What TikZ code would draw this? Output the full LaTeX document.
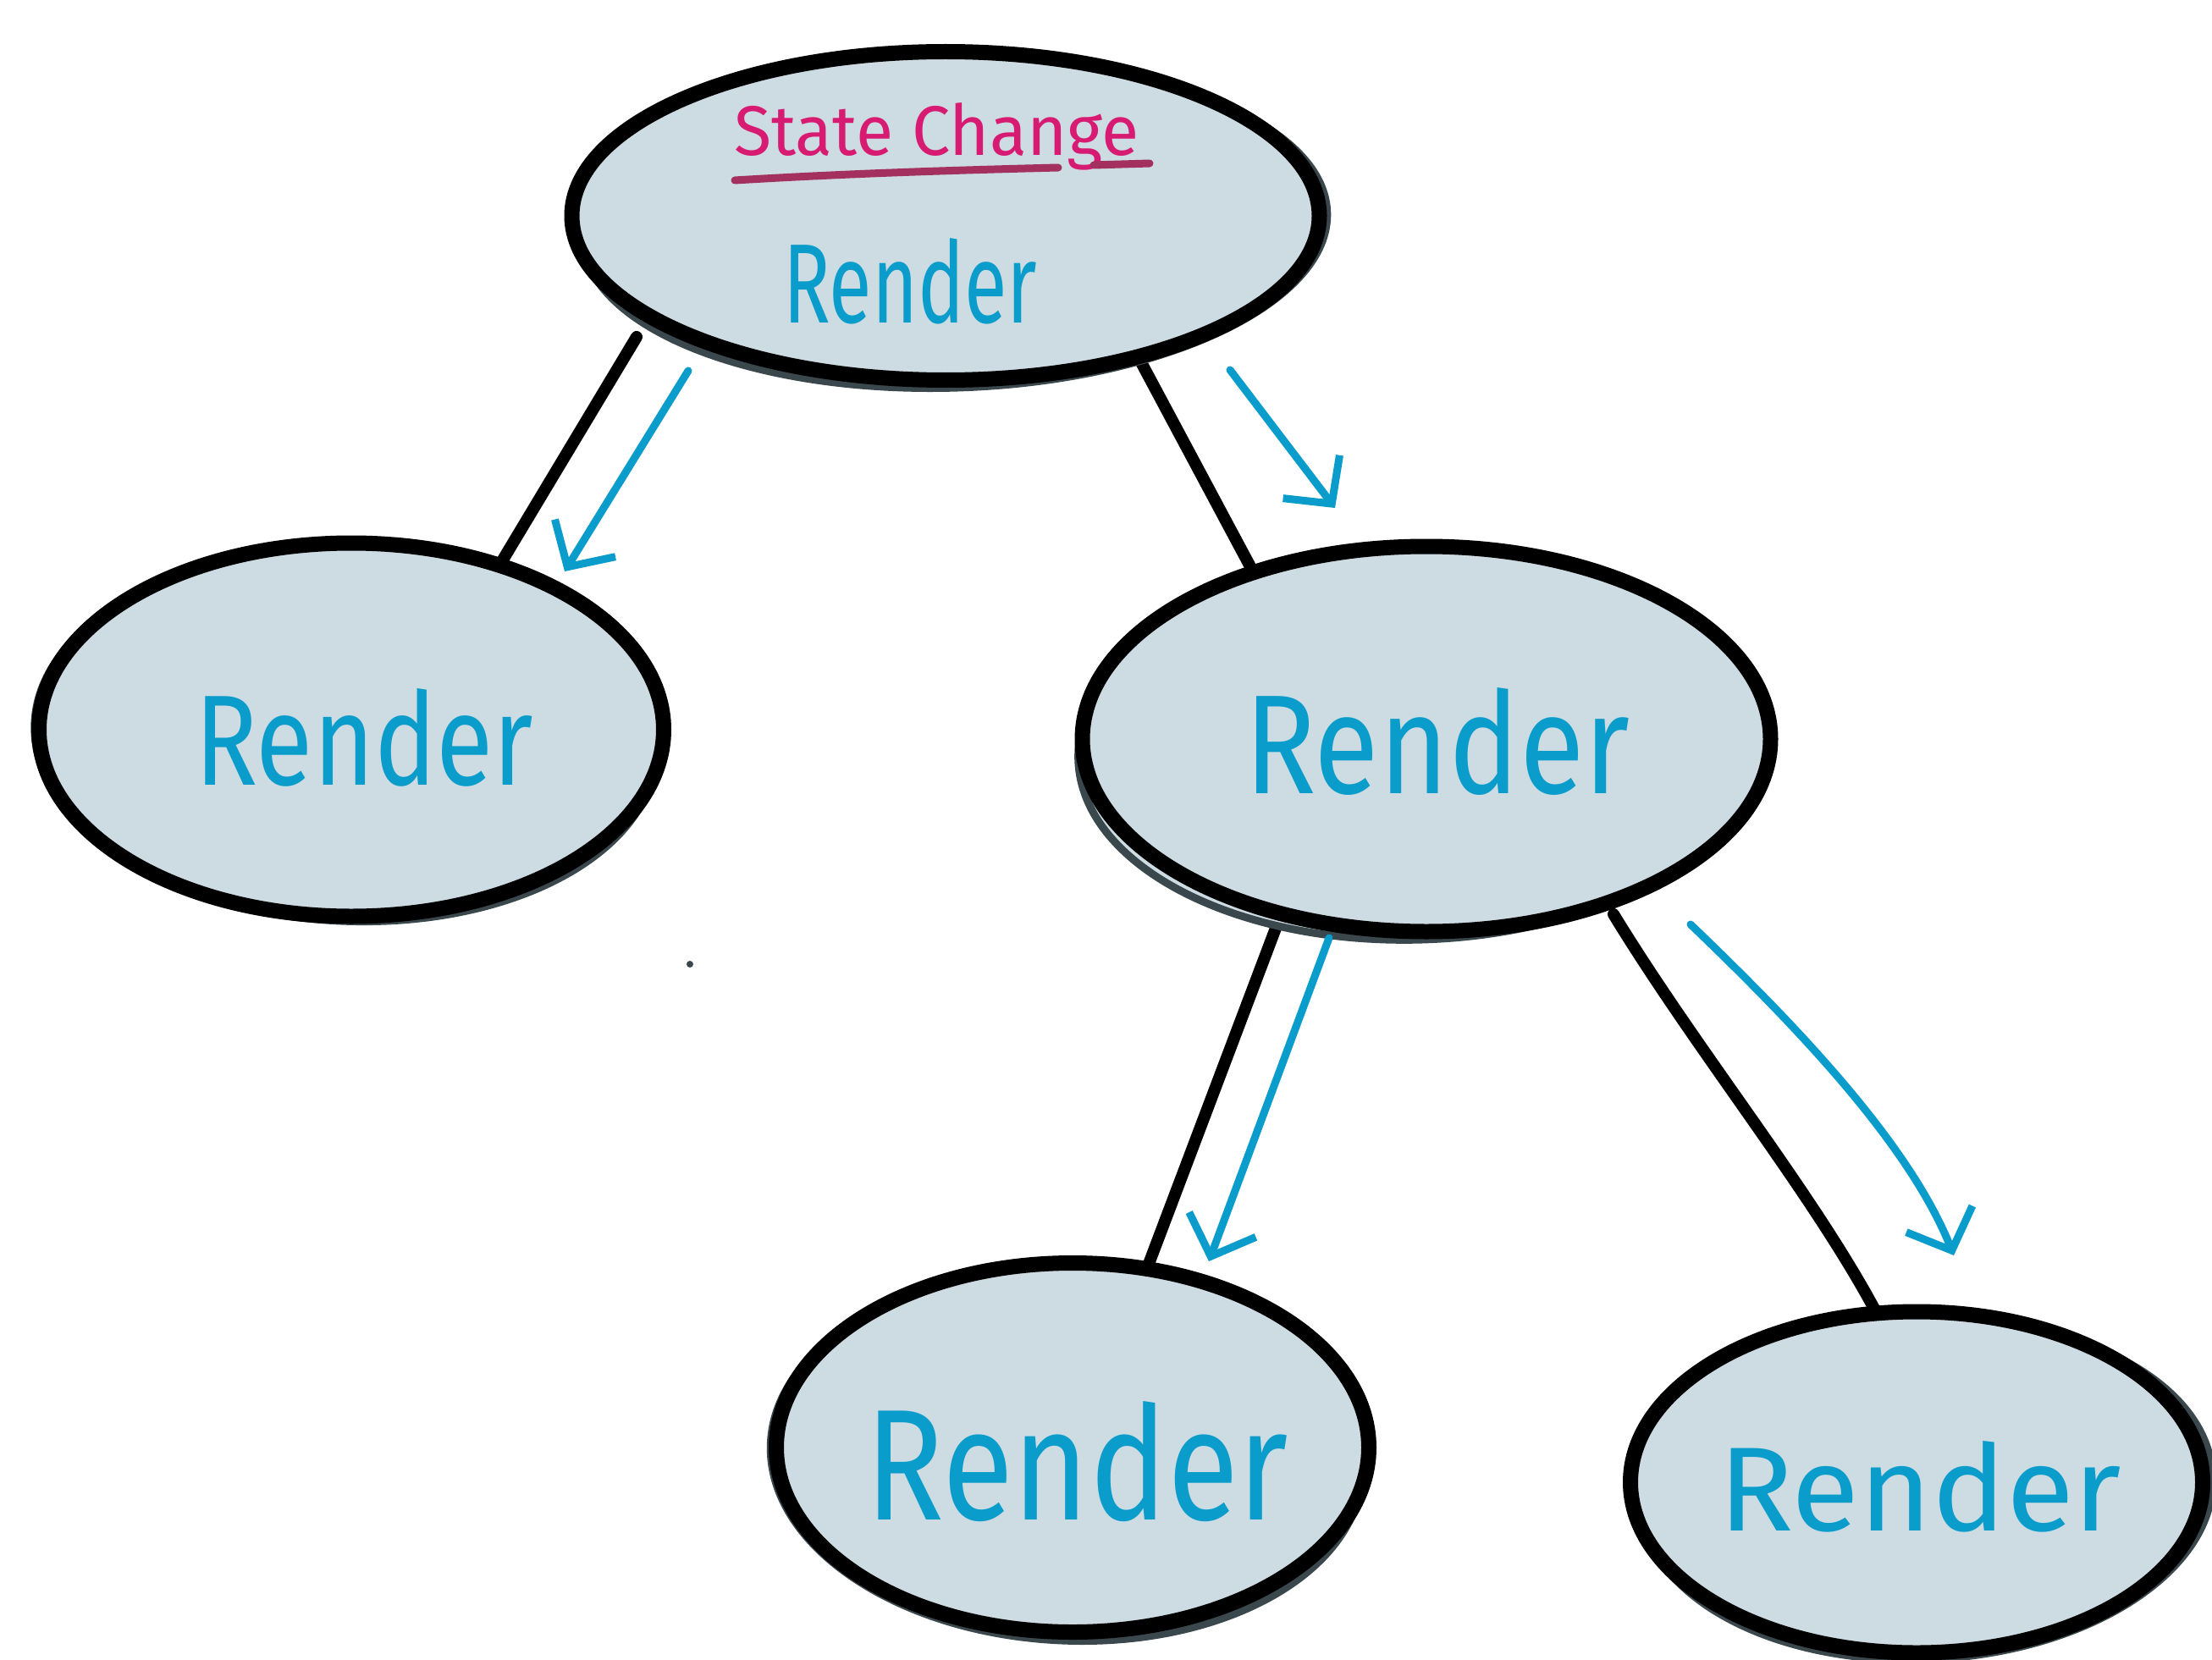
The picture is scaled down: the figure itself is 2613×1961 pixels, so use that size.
\documentclass[tikz,border=0pt]{standalone}
\usepackage{fontspec}
\usepackage{graphicx}
\setmainfont{Fira Sans}
\usetikzlibrary{shapes.geometric,arrows.meta}
\definecolor{blobfill}{HTML}{CCDCE2}
\definecolor{inkblue}{HTML}{0A9CCB}
\definecolor{inkpink}{HTML}{D81B72}
\definecolor{inkline}{HTML}{A3305E}
\definecolor{rimgrey}{HTML}{3A474C}
\begin{document}
\begin{tikzpicture}[x=1pt,y=-1pt,
  blob/.style={ellipse, fill=blobfill, draw=black, line width=18pt, inner sep=0pt},
  trace/.style={ellipse, draw=rimgrey, line width=9pt, inner sep=0pt, fill=blobfill},
  rtext/.style={inner sep=0pt, anchor=base west, text=inkblue},
  link/.style={line width=14pt, line cap=round, draw=black},
  flow/.style={draw=inkblue, line width=9pt, line cap=round, line join=round,
    -{Straight Barb[length=40pt,width=84pt]}}]
\useasboundingbox (0,0) rectangle (2613,1961);
\fill[white] (0,0) rectangle (2613,1961);

% connector end points
\coordinate (l1a) at (752,398);
\coordinate (l1b) at (590,668);
\coordinate (l2a) at (1348,428);
\coordinate (l2b) at (1488,690);
\coordinate (l3a) at (1517,1070);
\coordinate (l3b) at (1343,1530);
\coordinate (l4a) at (1906,1080);
\coordinate (l4b) at (2224,1565);

\draw[link] (l1a) -- (l1b);
\draw[link] (l2a) -- (l2b);
\draw[link] (l3a) -- (l3b);
\draw[link] (l4a) .. controls (2010,1250) and (2150,1420) .. (l4b);

% sketchy second outlines
\node[trace, rotate=2, minimum width=880pt, minimum height=384pt] (top2) at (1128,266) {};
\node[trace, rotate=-3, minimum width=735pt, minimum height=432pt] (left2) at (408,872) {};
\node[trace, rotate=2, minimum width=805pt, minimum height=452pt] (mid2) at (1676,884) {};
\node[trace, rotate=-3, minimum width=700pt, minimum height=432pt] (bm2) at (1260,1722) {};
\node[trace, rotate=3, minimum width=676pt, minimum height=400pt] (br2) at (2276,1760) {};

% main blobs
\node[blob, minimum width=883pt, minimum height=388pt] (top) at (1117,255) {};
\node[blob, minimum width=738pt, minimum height=441pt] (left) at (415,862) {};
\node[blob, minimum width=813pt, minimum height=455pt] (mid) at (1685,873) {};
\node[blob, minimum width=700pt, minimum height=436pt] (bm) at (1267,1710) {};
\node[blob, minimum width=676pt, minimum height=403pt] (br) at (2264,1751) {};

% texts
\node[inner sep=0pt, anchor=base west, text=inkpink] (sc) at (867,184) {\resizebox{478pt}{62pt}{State Change}};
\coordinate (ula) at (868,213);
\coordinate (ulb) at (1250,198);
\coordinate (ulc) at (1292,195);
\coordinate (uld) at (1358,193);
\draw[inkline, line width=9pt, line cap=round] (ula) .. controls (1000,205) and (1130,201) .. (ulb);
\draw[inkline, line width=9pt, line cap=round] (ulc) -- (uld);

\node[rtext] (ttop) at (925,381) {\resizebox{300pt}{100pt}{Render}};
\node[rtext] (tleft) at (230,927) {\resizebox{400pt}{114pt}{Render}};
\node[rtext] (tmid) at (1470,937) {\resizebox{455pt}{125pt}{Render}};
\node[rtext] (tbm) at (1022,1795) {\resizebox{500pt}{140pt}{Render}};
\node[rtext] (tbr) at (2030,1808) {\resizebox{476pt}{106pt}{Render}};

% blue flow arrows
\coordinate (a1a) at (813,438);
\coordinate (a1b) at (667,675);
\coordinate (a2a) at (1453,437);
\coordinate (a2b) at (1577,600);
\coordinate (a3a) at (1570,1108);
\coordinate (a3b) at (1428,1490);
\coordinate (a4a) at (1997,1092);
\coordinate (a4b) at (2308,1483);
\draw[flow] (a1a) -- (a1b);
\draw[flow] (a2a) -- (a2b);
\draw[flow] (a3a) -- (a3b);
\draw[flow] (a4a) .. controls (2120,1210) and (2255,1350) .. (a4b);

% stray speck
\fill[rimgrey] (815,1139) circle (4pt);
\end{tikzpicture}
\end{document}
